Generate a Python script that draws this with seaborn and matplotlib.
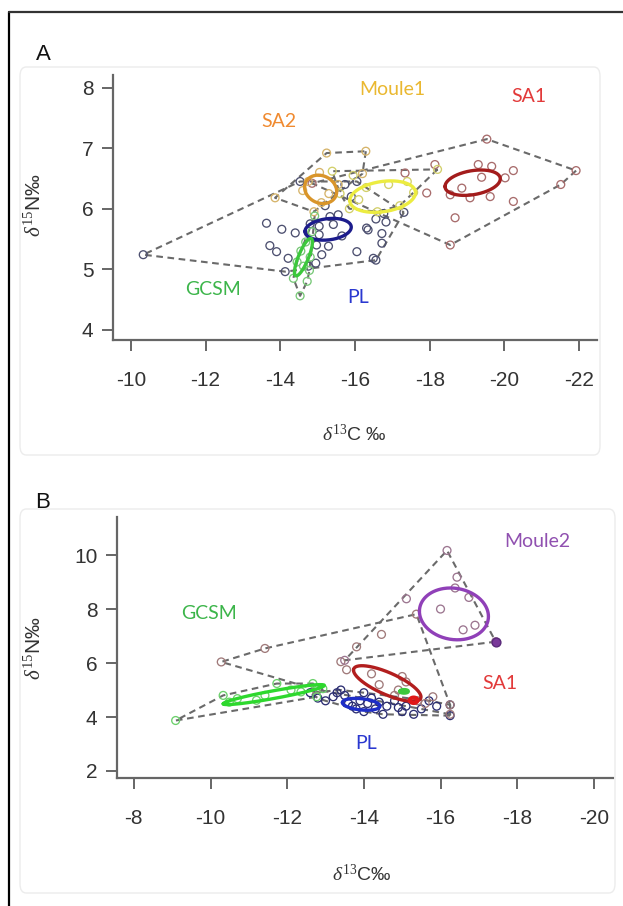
import numpy as np
import pandas as pd
import matplotlib
matplotlib.use("Agg")
import matplotlib.pyplot as plt
import seaborn as sns
from matplotlib.lines import Line2D
from matplotlib.patches import FancyBboxPatch

# ---------------- data : panel A ----------------
PL_A_x = [-10.33, -13.63, -14.04, -13.72, -13.90, -14.21, -14.13, -14.53, -14.97, -15.29,
          -15.11, -15.04, -15.42, -15.04, -15.33, -15.73, -16.05, -16.31, -16.05, -16.49,
          -16.56, -16.77, -16.83, -16.72, -16.72, -16.56, -17.31, -15.55, -14.80, -15.90,
          -14.75, -14.95, -15.65, -16.35, -14.40, -15.20]
PL_A_y = [5.24, 5.76, 5.66, 5.39, 5.29, 5.18, 4.96, 6.45, 5.40, 5.38,
          5.24, 5.57, 5.74, 5.71, 5.87, 6.40, 6.45, 5.68, 5.29, 5.18,
          5.83, 5.92, 5.78, 5.59, 5.43, 5.15, 5.94, 5.90, 5.75, 6.20,
          5.05, 5.10, 5.55, 5.65, 5.60, 6.05]
SA1_A_x = [-19.53, -21.92, -21.51, -20.24, -20.02, -20.24, -18.55, -18.68, -19.30, -19.66,
           -19.39, -18.55, -18.86, -19.08, -19.62, -18.14, -17.92, -17.34, -14.85]
SA1_A_y = [7.15, 6.63, 6.40, 6.63, 6.51, 6.12, 5.40, 5.85, 6.73, 6.70,
           6.52, 6.23, 6.34, 6.18, 6.20, 6.73, 6.26, 6.59, 6.42]
SA2_A_x = [-13.86, -15.24, -16.29, -16.20, -14.90, -14.75, -15.05, -15.30, -15.55, -15.10, -14.60]
SA2_A_y = [6.18, 6.92, 6.95, 6.58, 5.95, 6.45, 6.60, 6.25, 6.40, 6.10, 6.30]
M1_A_x = [-15.39, -18.21, -17.57, -17.20, -16.60, -15.85, -15.60, -16.30, -16.90, -17.40, -16.10, -15.95]
M1_A_y = [6.62, 6.65, 6.27, 6.05, 5.95, 6.00, 6.25, 6.35, 6.40, 6.45, 6.15, 6.55]
GC_A_x = [-14.35, -14.53, -14.72, -14.62, -14.80, -14.55, -14.68, -14.85, -14.92, -14.78, -14.45]
GC_A_y = [4.85, 4.56, 4.80, 5.05, 5.20, 5.30, 5.45, 5.62, 5.88, 4.98, 5.12]

# ---------------- data : panel B ----------------
M2_B_x = [-16.17, -16.43, -16.74, -16.38, -15.11, -16.59, -17.44, -13.50, -16.90, -16.00]
M2_B_y = [10.17, 9.18, 8.43, 8.78, 8.38, 7.23, 6.79, 6.10, 7.40, 8.00]
M2_FILLED_x = [-17.44]
M2_FILLED_y = [6.79]
SA1_B_x = [-10.28, -11.42, -15.37, -16.25, -12.75, -14.46, -13.81, -13.40, -13.55, -14.40,
           -14.90, -15.40, -15.60, -15.80, -14.80, -15.10, -15.00, -14.20, -16.25]
SA1_B_y = [6.04, 6.54, 7.81, 4.10, 5.02, 7.06, 6.60, 6.05, 5.75, 5.20,
           5.00, 4.60, 4.50, 4.75, 4.80, 5.30, 5.50, 5.60, 4.45]
GC_B_x = [-9.09, -10.33, -10.49, -10.70, -11.42, -11.73, -12.36, -12.67, -12.93, -12.77, -11.20, -12.10]
GC_B_y = [3.87, 4.80, 4.55, 4.68, 4.80, 5.24, 4.93, 5.24, 5.05, 4.75, 4.62, 5.00]
PL_B_x = [-12.60, -12.80, -13.00, -13.30, -13.50, -13.60, -13.80, -13.90, -14.00, -14.10,
          -14.20, -14.30, -14.50, -14.60, -14.80, -15.00, -15.10, -15.30, -15.50, -15.70,
          -15.90, -16.25, -16.25, -13.40, -14.00, -13.70, -14.40, -14.90, -13.20]
PL_B_y = [4.90, 4.70, 4.60, 4.90, 4.80, 4.50, 4.30, 4.60, 4.20, 4.50,
          4.70, 4.30, 4.10, 4.40, 4.60, 4.20, 4.40, 4.10, 4.30, 4.60,
          4.40, 4.45, 4.05, 5.00, 4.90, 4.40, 4.55, 4.35, 4.75]

# standard ellipses: name, centre x, centre y, sd x, sd y, correlation
ELL_A_names = ["SA1", "Moule1", "SA2", "PL", "GCSM"]
ELL_A_cx = [-19.15, -16.74, -15.08, -15.28, -14.62]
ELL_A_cy = [6.43, 6.20, 6.32, 5.66, 5.20]
ELL_A_sx = [0.74, 0.88, 0.43, 0.62, 0.24]
ELL_A_sy = [0.21, 0.26, 0.235, 0.18, 0.31]
ELL_A_r = [-0.30, -0.25, 0.15, -0.20, -0.80]
ELL_B_names = ["Moule2", "SA1", "PL", "GCSM", "SA2", "Moule1"]
ELL_B_cx = [-16.35, -14.61, -13.93, -11.65, -15.30, -15.05]
ELL_B_cy = [7.82, 5.24, 4.47, 4.83, 4.62, 4.95]
ELL_B_sx = [0.90, 0.88, 0.49, 1.32, 0.10, 0.10]
ELL_B_sy = [0.96, 0.66, 0.22, 0.37, 0.10, 0.05]
ELL_B_r = [0.10, 0.75, 0.30, -0.92, 0.0, 0.0]

# group labels
LAB_A_text = ["Moule1", "SA1", "SA2", "GCSM", "PL"]
LAB_A_x = [-16.99, -20.67, -13.95, -12.19, -16.08]
LAB_A_y = [7.97, 7.85, 7.44, 4.66, 4.53]
LAB_B_text = ["Moule2", "GCSM", "SA1", "PL"]
LAB_B_x = [-18.53, -9.97, -17.54, -14.07]
LAB_B_y = [10.52, 7.85, 5.24, 3.00]

XTICKS_A = [-10, -12, -14, -16, -18, -20, -22]
YTICKS_A = [4, 5, 6, 7, 8]
XTICKS_B = [-8, -10, -12, -14, -16, -18, -20]
YTICKS_B = [2, 4, 6, 8, 10]

# ---------------- styles ----------------
sns.set_theme(style="white")
plt.rcParams['font.family'] = ['Liberation Sans', 'DejaVu Sans']
plt.rcParams['mathtext.fontset'] = 'custom'
plt.rcParams['mathtext.rm'] = 'Liberation Serif'
plt.rcParams['mathtext.it'] = 'Liberation Serif:italic'

PT_COL = {"PL": "#4d5070", "SA1": "#a86c6c", "SA2": "#d6b46a", "Moule1": "#d2cf6a",
          "GCSM": "#78c878", "Moule2": "#9c7690"}
PT_COL_B = {"PL": "#2c2e72", "SA1": "#a07a7a", "GCSM": "#6cd06c", "Moule2": "#9c7690"}
ELL_COL = {"SA1": "#a31c1c", "Moule1": "#ecec40", "SA2": "#d9952a", "PL": "#1c1c8c",
           "GCSM": "#3cc83c"}
ELL_COL_B = {"Moule2": "#9040b8", "SA1": "#b21e1e", "PL": "#1e2ec8", "GCSM": "#2ed82e",
             "SA2": "#e01818", "Moule1": "#3cc83c"}
LAB_COL = {"Moule1": "#eab830", "SA1": "#e23a3a", "SA2": "#f08a30", "GCSM": "#3cb54a",
           "PL": "#2a38d0", "Moule2": "#9050b0"}
HULL_COL = "#6a6a6a"


def convex_hull(xs, ys):
    pts = sorted(set(zip(xs, ys)))
    if len(pts) < 3:
        return pts + pts[:1]

    def cross(o, a, b):
        return (a[0] - o[0]) * (b[1] - o[1]) - (a[1] - o[1]) * (b[0] - o[0])
    lower, upper = [], []
    for p in pts:
        while len(lower) >= 2 and cross(lower[-2], lower[-1], p) <= 0:
            lower.pop()
        lower.append(p)
    for p in reversed(pts):
        while len(upper) >= 2 and cross(upper[-2], upper[-1], p) <= 0:
            upper.pop()
        upper.append(p)
    h = lower[:-1] + upper[:-1]
    return h + h[:1]


def ellipse_xy(cx, cy, sx, sy, r, n=240):
    t = np.linspace(0, 2 * np.pi, n)
    return cx + sx * np.cos(t), cy + sy * (r * np.cos(t) + np.sqrt(1 - r * r) * np.sin(t))


def draw_panel(ax, groups, pcols, ell, ecols, labels, xlim, ylim, xticks, yticks):
    frames = []
    for g, (xs, ys) in groups.items():
        frames.append(pd.DataFrame({"x": xs, "y": ys, "group": g}))
    df = pd.concat(frames, ignore_index=True)
    for g in groups:
        sub = df[df.group == g]
        h = convex_hull(list(sub.x), list(sub.y))
        hx, hy = zip(*h)
        ax.plot(hx, hy, color=HULL_COL, lw=1.5, ls=(0, (3.2, 2.2)), zorder=2)
    for g in groups:
        sub = df[df.group == g]
        sns.scatterplot(data=sub, x="x", y="y", ax=ax, s=32, facecolor="none",
                        edgecolor=pcols[g], linewidth=0.95, legend=False, zorder=3)
    names, cx, cy, sx, sy, rr = ell
    for i, nm in enumerate(names):
        ex, ey = ellipse_xy(cx[i], cy[i], sx[i], sy[i], rr[i])
        lw = 2.4 if sx[i] > 0.15 else 3.0
        ax.plot(ex, ey, color=ecols[nm], lw=lw, zorder=4)
    for t, x, y in zip(*labels):
        ax.text(x, y, t, color=LAB_COL[t], fontsize=14, family=['Lato', 'DejaVu Sans'],
                ha="center", va="center", zorder=5)
    ax.set_xlim(*xlim)
    ax.set_ylim(*ylim)
    ax.set_xticks(xticks)
    ax.set_yticks(yticks)
    ax.set_xticklabels([str(v) for v in xticks])
    ax.set_yticklabels([str(v) for v in yticks])
    ax.set_xlabel("")
    ax.set_ylabel("")
    for s in ["top", "right"]:
        ax.spines[s].set_visible(False)
    for s in ["left", "bottom"]:
        ax.spines[s].set_color("#666666")
        ax.spines[s].set_linewidth(1.6)
    ax.tick_params(axis="both", which="both", direction="out", length=8, width=1.4,
                   color="#666666", labelcolor="#333333", labelsize=15)
    ax.tick_params(axis="x", pad=14, bottom=True)
    ax.tick_params(axis="y", pad=6, left=True)
    ax.set_facecolor("none")


fig = plt.figure(figsize=(6.23, 9.06), dpi=100)
W, H = 623.0, 906.0

# faint background boxes
for (x0, y0, x1, y1) in [(20, 67, 600, 455), (20, 509, 615, 893)]:
    fig.add_artist(FancyBboxPatch((x0 / W, 1 - y1 / H), (x1 - x0) / W, (y1 - y0) / H,
                                  boxstyle="round,pad=0,rounding_size=0.01",
                                  transform=fig.transFigure, fc="none", ec="#ececec", lw=1.0))

axA = fig.add_axes([113 / W, 1 - 340 / H, 484 / W, 265 / H])
axB = fig.add_axes([117 / W, 1 - 778 / H, 496 / W, 261 / H])

draw_panel(axA,
           {"PL": (PL_A_x, PL_A_y), "SA1": (SA1_A_x, SA1_A_y), "SA2": (SA2_A_x, SA2_A_y),
            "Moule1": (M1_A_x, M1_A_y), "GCSM": (GC_A_x, GC_A_y)},
           PT_COL,
           (ELL_A_names, ELL_A_cx, ELL_A_cy, ELL_A_sx, ELL_A_sy, ELL_A_r), ELL_COL,
           (LAB_A_text, LAB_A_x, LAB_A_y),
           (-9.52, -22.48), (3.83, 8.21), XTICKS_A, YTICKS_A)

draw_panel(axB,
           {"PL": (PL_B_x, PL_B_y), "SA1": (SA1_B_x, SA1_B_y), "Moule2": (M2_B_x, M2_B_y),
            "GCSM": (GC_B_x, GC_B_y)},
           PT_COL_B,
           (ELL_B_names, ELL_B_cx, ELL_B_cy, ELL_B_sx, ELL_B_sy, ELL_B_r), ELL_COL_B,
           (LAB_B_text, LAB_B_x, LAB_B_y),
           (-7.56, -20.5), (1.74, 11.41), XTICKS_B, YTICKS_B)
sns.scatterplot(x=M2_FILLED_x, y=M2_FILLED_y, ax=axB, s=40, color="#7a3a9a",
                edgecolor="#5a2a7a", linewidth=1.0, legend=False, zorder=4)

# panel letters and axis titles
fig.text(43 / W, 1 - 54 / H, "A", fontsize=16, ha="center", va="center", color="#111111")
fig.text(43 / W, 1 - 503 / H, "B", fontsize=16, ha="center", va="center", color="#111111")
fig.text(34 / W, 1 - 205 / H, r"$\delta^{15}$N‰", rotation=90, fontsize=15,
         ha="center", va="center", color="#333333")
fig.text(34 / W, 1 - 648 / H, r"$\delta^{15}$N‰", rotation=90, fontsize=15,
         ha="center", va="center", color="#333333")
fig.text(354 / W, 1 - 435 / H, r"$\delta^{13}$C ‰", fontsize=14,
         ha="center", va="center", color="#333333")
fig.text(362 / W, 1 - 875 / H, r"$\delta^{13}$C‰", fontsize=14,
         ha="center", va="center", color="#333333")

# outer frame (left and top edges)
fig.add_artist(Line2D([9 / W, 9 / W], [0, 1 - 12 / H], color="black", lw=1.6,
                      transform=fig.transFigure))
fig.add_artist(Line2D([9 / W, 1], [1 - 12 / H, 1 - 12 / H], color="#333333", lw=1.6,
                      transform=fig.transFigure))

fig.savefig("out.png", dpi=100)
